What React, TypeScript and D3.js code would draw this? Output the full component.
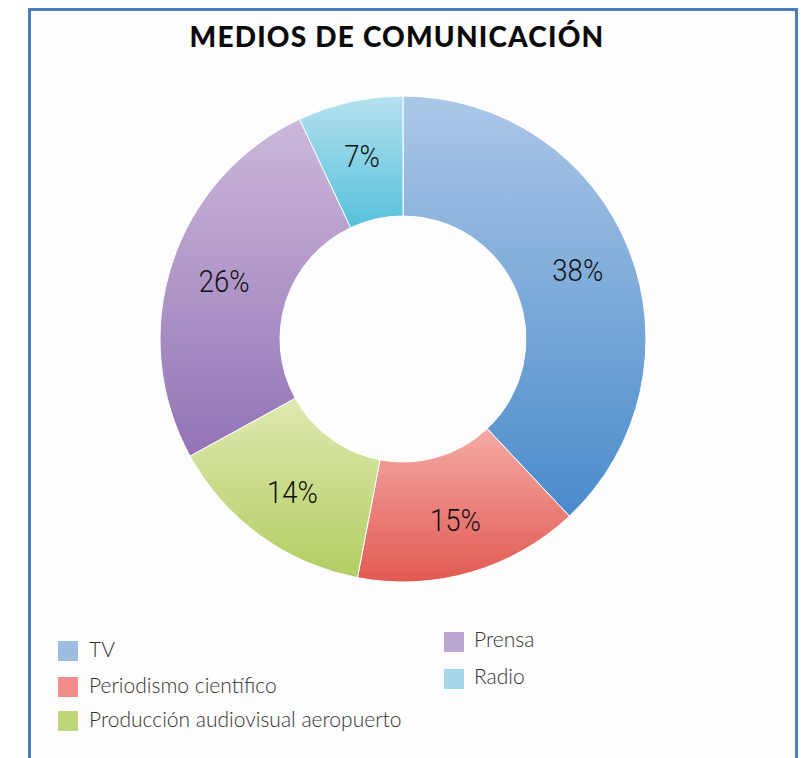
import React from "react";
import * as d3 from "d3";

const categories = ["TV", "Periodismo científico", "Producción audiovisual aeropuerto", "Prensa", "Radio"];
const values = [38, 15, 14, 26, 7];
const labels = ["38%", "15%", "14%", "26%", "7%"];
const legendColors = ["#9dbde1", "#f08d88", "#bfd67b", "#bba6cf", "#a4d8ea"];
const gradTop = ["#abc7e7", "#f5aaa5", "#dfe9b0", "#ccb8db", "#b6e1ef"];
const gradBottom = ["#4a8bcb", "#e15a52", "#b2cd62", "#9373b5", "#55c1db"];

const W = 803;
const H = 758;
const cx = 403;
const cy = 339;
const rOuter = 243;
const rInner = 123;
const rLabel = 188;

export default function App() {
  const pie = d3.pie<number>().sort(null).value((d) => d)(values);
  const arc = d3.arc<d3.PieArcDatum<number>>().innerRadius(rInner).outerRadius(rOuter);
  const labelArc = d3.arc<d3.PieArcDatum<number>>().innerRadius(rLabel).outerRadius(rLabel);

  const legendLeft = [0, 1, 2];
  const legendRight = [3, 4];
  const rowY = d3.scaleLinear().domain([0, 1]).range([641, 677]);

  return (
    <svg width={W} height={H} style={{ position: "absolute", left: 0, top: 0, background: "#fff" }}>
      <defs>
        {values.map((_, i) => (
          <linearGradient key={i} id={`g${i}`} x1="0" y1="0" x2="0" y2="1">
            <stop offset="0%" stopColor={gradTop[i]} />
            <stop offset="100%" stopColor={gradBottom[i]} />
          </linearGradient>
        ))}
      </defs>
      <rect x={29.5} y={9.5} width={767} height={800} fill="#fdfdfd" stroke="#4a7ebb" strokeWidth={3} />
      <text
        x={397}
        y={47}
        textAnchor="middle"
        fontFamily="Lato, 'Open Sans', sans-serif"
        fontWeight={900}
        fontSize={28}
        letterSpacing={1.2}
        fill="#0a0a0a"
      >
        MEDIOS DE COMUNICACIÓN
      </text>
      <g transform={`translate(${cx},${cy})`}>
        {pie.map((p, i) => (
          <path key={i} d={arc(p) || ""} fill={`url(#g${i})`} stroke="#ffffff" strokeWidth={1} />
        ))}
        {pie.map((p, i) => {
          const [x, y] = labelArc.centroid(p);
          return (
            <text
              key={i}
              transform={`translate(${x},${y}) scale(0.86,1)`}
              dy="0.36em"
              textAnchor="middle"
              fontFamily="Roboto, sans-serif"
              fontWeight={300}
              fontSize={32}
              fill="#111"
            >
              {labels[i]}
            </text>
          );
        })}
      </g>
      <g fontFamily="Lato, sans-serif" fontWeight={300} fontSize={21} fill="#333">
        {legendLeft.map((ci, r) => (
          <g key={ci}>
            <rect x={58} y={rowY(r) + (r === 2 ? -2 : 0)} width={20} height={20} fill={legendColors[ci]} />
            <text x={89} y={rowY(r) + (r === 2 ? -2 : 0) + 16}>
              {categories[ci]}
            </text>
          </g>
        ))}
        {legendRight.map((ci, r) => (
          <g key={ci}>
            <rect x={444} y={rowY(r) - 9 + r} width={20} height={20} fill={legendColors[ci]} />
            <text x={474} y={rowY(r) - 9 + r + 15}>
              {categories[ci]}
            </text>
          </g>
        ))}
      </g>
    </svg>
  );
}
